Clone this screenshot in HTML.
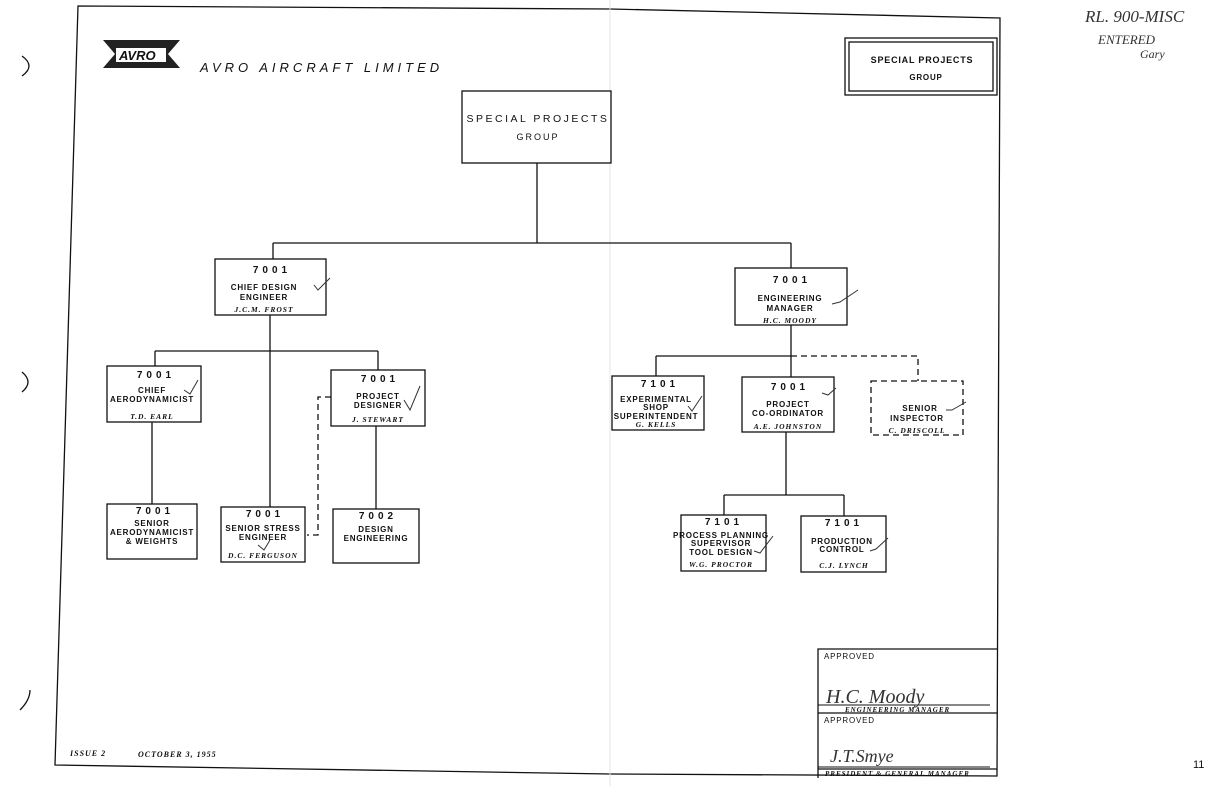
<!DOCTYPE html>
<html><head><meta charset="utf-8"><style>
html,body{margin:0;padding:0;background:#fff;}
svg{display:block;}
text{font-family:"Liberation Sans",sans-serif;fill:#111;}
.t{font-size:8px;letter-spacing:0.8px;font-weight:bold;}
.n{font-size:10px;letter-spacing:4px;font-weight:bold;}
.nm{font-family:"Liberation Serif",serif;font-size:7.5px;font-style:italic;font-weight:bold;letter-spacing:1px;}
.b{fill:#fff;stroke:#111;stroke-width:1.3;}
.l{stroke:#111;stroke-width:1.3;fill:none;}
.d{stroke:#111;stroke-width:1.3;fill:none;stroke-dasharray:6,4;}
.ck{stroke:#333;stroke-width:1;fill:none;}
.hw{font-family:"Liberation Serif",serif;font-style:italic;fill:#333;}
</style></head><body>
<svg width="1218" height="786" viewBox="0 0 1218 786" xmlns="http://www.w3.org/2000/svg">
<path class="l" d="M78 6 L610 9 L1000 18 L997 776 L610 774 L55 765 Z"/>
<line x1="610" y1="0" x2="610" y2="786" stroke="#e4e4e4" stroke-width="1"/>
<path class="l" d="M22 56 Q36 66 22 76"/><path class="l" d="M22 372 Q34 382 22 392"/><path class="l" d="M20 710 Q30 700 30 690"/>
<text x="1193" y="768" font-size="11" fill="#666">11</text>
<text class="hw" x="1085" y="22" font-size="17">RL. 900-MISC</text>
<text class="hw" x="1098" y="44" font-size="13">ENTERED</text>
<text class="hw" x="1140" y="58" font-size="12">Gary</text>
<g>
<path d="M103 40 L180 40 L168 54 L180 68 L103 68 L115 54 Z" fill="#222"/>
<rect x="116" y="48" width="50" height="14" fill="#fff"/>
<text x="119" y="60" font-size="13" font-style="italic" font-weight="bold" fill="#111">AVRO</text>
</g>
<text x="200" y="72" font-size="13" font-style="italic" letter-spacing="4">AVRO  AIRCRAFT  LIMITED</text>
<rect class="b" x="845" y="38" width="152" height="57"/>
<rect class="l" x="849" y="42" width="144" height="49"/>
<text class="t" x="922" y="63" text-anchor="middle" style="font-size:9px">SPECIAL  PROJECTS</text>
<text class="t" x="926" y="80" text-anchor="middle">GROUP</text>
<rect class="b" x="462" y="91" width="149" height="72"/>
<text class="t" x="538" y="122" text-anchor="middle" style="font-size:10.5px;font-weight:normal;letter-spacing:2.5px">SPECIAL  PROJECTS</text>
<text class="t" x="538" y="140" text-anchor="middle" style="font-size:9px;font-weight:normal;letter-spacing:2px">GROUP</text>
<path class="l" d="M537 163 V243 M273 243 H791 M273 243 V259 M791 243 V268"/>
<path class="l" d="M270 315 V507 M155 351 H378 M155 351 V366 M378 351 V370 M152 422 V504 M376 426 V509"/>
<path class="d" d="M331 397 H318 V535 H307"/>
<path class="l" d="M791 325 V377 M656 356 H791 M656 356 V376 M786 432 V495 M724 495 H844 M724 495 V515 M844 495 V516"/>
<path class="d" d="M791 356 H918 V381"/>
<rect class="b" x="215" y="259" width="111" height="56"/>
<text class="n" x="272" y="273" text-anchor="middle">7001</text>
<text class="t" x="264" y="290" text-anchor="middle">CHIEF DESIGN</text>
<text class="t" x="264" y="300" text-anchor="middle">ENGINEER</text>
<text class="nm" x="264" y="312" text-anchor="middle">J.C.M. FROST</text>
<path class="ck" d="M314 285 L318 290 L330 278"/>
<rect class="b" x="735" y="268" width="112" height="57"/>
<text class="n" x="792" y="283" text-anchor="middle">7001</text>
<text class="t" x="790" y="301" text-anchor="middle">ENGINEERING</text>
<text class="t" x="790" y="311" text-anchor="middle">MANAGER</text>
<text class="nm" x="790" y="323" text-anchor="middle">H.C. MOODY</text>
<path class="ck" d="M832 304 L840 302 L858 290"/>
<rect class="b" x="107" y="366" width="94" height="56"/>
<text class="n" x="156" y="378" text-anchor="middle">7001</text>
<text class="t" x="152" y="393" text-anchor="middle">CHIEF</text>
<text class="t" x="152" y="402" text-anchor="middle">AERODYNAMICIST</text>
<text class="nm" x="152" y="419" text-anchor="middle">T.D. EARL</text>
<path class="ck" d="M184 390 L190 394 L198 380"/>
<rect class="b" x="331" y="370" width="94" height="56"/>
<text class="n" x="380" y="382" text-anchor="middle">7001</text>
<text class="t" x="378" y="399" text-anchor="middle">PROJECT</text>
<text class="t" x="378" y="408" text-anchor="middle">DESIGNER</text>
<text class="nm" x="378" y="422" text-anchor="middle">J. STEWART</text>
<path class="ck" d="M404 400 L410 410 L420 386"/>
<rect class="b" x="107" y="504" width="90" height="55"/>
<text class="n" x="155" y="514" text-anchor="middle">7001</text>
<text class="t" x="152" y="526" text-anchor="middle">SENIOR</text>
<text class="t" x="152" y="535" text-anchor="middle">AERODYNAMICIST</text>
<text class="t" x="152" y="544" text-anchor="middle">&amp; WEIGHTS</text>
<rect class="b" x="221" y="507" width="84" height="55"/>
<text class="n" x="265" y="517" text-anchor="middle">7001</text>
<text class="t" x="263" y="531" text-anchor="middle">SENIOR STRESS</text>
<text class="t" x="263" y="540" text-anchor="middle">ENGINEER</text>
<text class="nm" x="263" y="558" text-anchor="middle">D.C. FERGUSON</text>
<path class="ck" d="M258 545 L264 550 L270 540"/>
<rect class="b" x="333" y="509" width="86" height="54"/>
<text class="n" x="378" y="519" text-anchor="middle">7002</text>
<text class="t" x="376" y="532" text-anchor="middle">DESIGN</text>
<text class="t" x="376" y="541" text-anchor="middle">ENGINEERING</text>
<rect class="b" x="612" y="376" width="92" height="54"/>
<text class="n" x="660" y="387" text-anchor="middle">7101</text>
<text class="t" x="656" y="402" text-anchor="middle">EXPERIMENTAL</text>
<text class="t" x="656" y="410" text-anchor="middle">SHOP</text>
<text class="t" x="656" y="419" text-anchor="middle">SUPERINTENDENT</text>
<text class="nm" x="656" y="427" text-anchor="middle">G. KELLS</text>
<path class="ck" d="M688 406 L692 411 L702 396"/>
<rect class="b" x="742" y="377" width="92" height="55"/>
<text class="n" x="790" y="390" text-anchor="middle">7001</text>
<text class="t" x="788" y="407" text-anchor="middle">PROJECT</text>
<text class="t" x="788" y="416" text-anchor="middle">CO-ORDINATOR</text>
<text class="nm" x="788" y="429" text-anchor="middle">A.E. JOHNSTON</text>
<path class="ck" d="M822 393 L828 395 L836 388"/>
<rect class="d" x="871" y="381" width="92" height="54" fill="#fff"/>
<text class="t" x="920" y="411" text-anchor="middle">SENIOR</text>
<text class="t" x="917" y="421" text-anchor="middle">INSPECTOR</text>
<text class="nm" x="917" y="433" text-anchor="middle">C. DRISCOLL</text>
<path class="ck" d="M946 410 L952 410 L966 402"/>
<rect class="b" x="681" y="515" width="85" height="56"/>
<text class="n" x="724" y="525" text-anchor="middle">7101</text>
<text class="t" x="721" y="538" text-anchor="middle">PROCESS PLANNING</text>
<text class="t" x="721" y="546" text-anchor="middle">SUPERVISOR</text>
<text class="t" x="721" y="555" text-anchor="middle">TOOL DESIGN</text>
<text class="nm" x="721" y="567" text-anchor="middle">W.G. PROCTOR</text>
<path class="ck" d="M754 551 L760 553 L773 536"/>
<rect class="b" x="801" y="516" width="85" height="56"/>
<text class="n" x="844" y="526" text-anchor="middle">7101</text>
<text class="t" x="842" y="544" text-anchor="middle">PRODUCTION</text>
<text class="t" x="842" y="552" text-anchor="middle">CONTROL</text>
<text class="nm" x="844" y="568" text-anchor="middle">C.J. LYNCH</text>
<path class="ck" d="M870 551 L876 549 L888 538"/>
<path class="l" d="M818 778 V649 H997 M818 713 H997 M818 769 H997"/>
<text class="t" x="824" y="659" style="font-weight:normal">APPROVED</text>
<text class="t" x="824" y="723" style="font-weight:normal">APPROVED</text>
<line x1="818" y1="705" x2="990" y2="705" stroke="#111" stroke-width="1"/>
<text class="nm" x="845" y="712" style="font-size:7px">ENGINEERING MANAGER</text>
<text class="hw" x="826" y="703" font-size="20">H.C. Moody</text>
<line x1="818" y1="767" x2="990" y2="767" stroke="#111" stroke-width="1"/>
<text class="nm" x="825" y="776" style="font-size:7px">PRESIDENT &amp; GENERAL MANAGER</text>
<text class="hw" x="830" y="762" font-size="18">J.T.Smye</text>
<text class="nm" x="70" y="756" style="font-size:8px">ISSUE 2</text>
<text class="nm" x="138" y="757" style="font-size:8px">OCTOBER 3, 1955</text>
</svg>
</body></html>
